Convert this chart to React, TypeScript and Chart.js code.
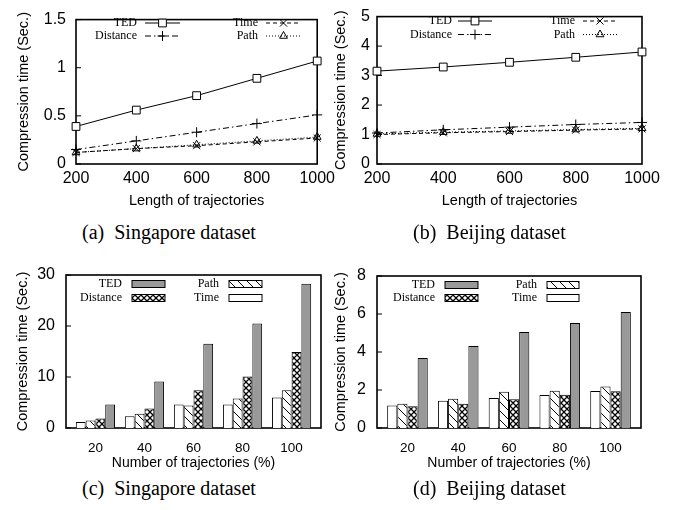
import React, { useEffect, useRef } from 'react';
import { Chart, registerables } from 'chart.js';
import { drawPoint } from 'chart.js/helpers';

Chart.register(...registerables);

// ---- data ----
const LENGTHS = ['200', '400', '600', '800', '1000'];
const SG_TED = [0.39, 0.56, 0.71, 0.89, 1.07];
const SG_DIST = [0.15, 0.24, 0.33, 0.42, 0.51];
const SG_TIME = [0.12, 0.16, 0.19, 0.23, 0.27];
const SG_PATH = [0.12, 0.16, 0.2, 0.24, 0.28];

const BJ_TED = [3.15, 3.29, 3.45, 3.62, 3.8];
const BJ_DIST = [1.05, 1.16, 1.25, 1.34, 1.41];
const BJ_TIME = [1.0, 1.06, 1.1, 1.15, 1.19];
const BJ_PATH = [1.02, 1.08, 1.12, 1.17, 1.21];

const PCTS = ['20', '40', '60', '80', '100'];
const SG_BAR_TIME = [1.2, 2.3, 4.6, 4.6, 6.0];
const SG_BAR_PATH = [1.45, 2.8, 4.4, 5.8, 7.4];
const SG_BAR_DIST = [1.85, 3.8, 7.4, 10.1, 14.9];
const SG_BAR_TED = [4.6, 9.1, 16.5, 20.5, 28.3];

const BJ_BAR_TIME = [1.19, 1.44, 1.58, 1.74, 1.95];
const BJ_BAR_PATH = [1.28, 1.54, 1.91, 1.96, 2.18];
const BJ_BAR_DIST = [1.14, 1.28, 1.51, 1.75, 1.93];
const BJ_BAR_TED = [3.68, 4.32, 5.05, 5.53, 6.1];

const SANS = "'Liberation Sans', Arial, Helvetica, sans-serif";
const SERIF = "'Liberation Serif', 'Times New Roman', serif";

const fmtNum = (v: any) => String(Math.round(Number(v) * 100) / 100);

// ---- plugins ----
const framePlugin = {
  id: 'frame',
  beforeDatasetsDraw(chart: any) {
    const { ctx, chartArea: a, scales } = chart;
    ctx.save();
    ctx.strokeStyle = '#000';
    ctx.lineWidth = 1.6;
    ctx.setLineDash([]);
    ctx.strokeRect(a.left, a.top, a.right - a.left, a.bottom - a.top);
    ctx.lineWidth = 1;
    const ys = scales.y;
    ys.ticks.forEach((_t: any, i: number) => {
      const py = ys.getPixelForTick(i);
      ctx.beginPath();
      ctx.moveTo(a.left, py);
      ctx.lineTo(a.left + 5, py);
      ctx.stroke();
    });
    ctx.restore();
  },
};

const inlineLegend = {
  id: 'inlineLegend',
  afterDraw(chart: any, _args: any, opts: any) {
    if (!opts || !opts.items) return;
    const ctx = chart.ctx;
    ctx.save();
    ctx.font = `12px ${SERIF}`;
    ctx.textAlign = 'right';
    ctx.textBaseline = 'middle';
    for (const it of opts.items) {
      const ds = chart.data.datasets[it.ds];
      const col = opts.cols[it.col];
      const y = opts.rows[it.row];
      ctx.fillStyle = '#000';
      ctx.fillText(ds.label, col.right, y);
      const x0 = col.start;
      const x1 = col.start + col.len;
      if (opts.kind === 'line') {
        ctx.save();
        ctx.strokeStyle = '#000';
        ctx.lineWidth = 1;
        ctx.setLineDash(ds.borderDash || []);
        ctx.beginPath();
        ctx.moveTo(x0, y);
        ctx.lineTo(x1, y);
        ctx.stroke();
        ctx.restore();
        ctx.save();
        ctx.setLineDash([]);
        ctx.strokeStyle = '#000';
        ctx.fillStyle = ds.pointBackgroundColor || 'rgba(0,0,0,0)';
        ctx.lineWidth = 1;
        drawPoint(ctx, { pointStyle: ds.pointStyle, radius: ds.pointRadius, borderWidth: 1, rotation: 0 } as any, (x0 + x1) / 2, y);
        ctx.restore();
      } else {
        const h = 7;
        ctx.fillStyle = ds.backgroundColor;
        ctx.fillRect(x0, y - h / 2, col.len, h);
        ctx.strokeStyle = '#000';
        ctx.lineWidth = 1;
        ctx.strokeRect(x0, y - h / 2, col.len, h);
      }
    }
    ctx.restore();
  },
};

// ---- patterns ----
function diagPattern(): CanvasPattern | string {
  const s = 9;
  const c = document.createElement('canvas');
  c.width = s;
  c.height = s;
  const g = c.getContext('2d');
  if (!g) return '#fff';
  g.fillStyle = '#fff';
  g.fillRect(0, 0, s, s);
  g.strokeStyle = '#000';
  g.lineWidth = 1;
  g.beginPath();
  g.moveTo(0, 0); g.lineTo(s, s);
  g.moveTo(-2, s - 2); g.lineTo(2, s + 2);
  g.moveTo(s - 2, -2); g.lineTo(s + 2, 2);
  g.stroke();
  return g.createPattern(c, 'repeat') || '#fff';
}

function crossPattern(): CanvasPattern | string {
  const s = 6;
  const c = document.createElement('canvas');
  c.width = s;
  c.height = s;
  const g = c.getContext('2d');
  if (!g) return '#000';
  g.fillStyle = '#fff';
  g.fillRect(0, 0, s, s);
  g.strokeStyle = '#000';
  g.lineWidth = 1.3;
  g.beginPath();
  g.moveTo(0, 0); g.lineTo(s, s);
  g.moveTo(s, 0); g.lineTo(0, s);
  g.moveTo(-2, s - 2); g.lineTo(2, s + 2);
  g.moveTo(s - 2, -2); g.lineTo(s + 2, 2);
  g.moveTo(-2, 2); g.lineTo(2, -2);
  g.moveTo(s - 2, s + 2); g.lineTo(s + 2, s - 2);
  g.stroke();
  return g.createPattern(c, 'repeat') || '#000';
}

// ---- builders ----
function lineDatasets(ted: number[], dist: number[], time: number[], path: number[]) {
  const base = { borderColor: '#000', borderWidth: 1, tension: 0, fill: false, clip: false as any, pointBorderColor: '#000', pointBorderWidth: 1 };
  return [
    { ...base, label: 'TED', data: ted, pointStyle: 'rect', pointRadius: 5.5, pointBackgroundColor: '#fff' },
    { ...base, label: 'Distance', data: dist, borderDash: [6, 3, 1.5, 3], pointStyle: 'cross', pointRadius: 5, pointBackgroundColor: 'rgba(0,0,0,0)' },
    { ...base, label: 'Time', data: time, borderDash: [4, 3], pointStyle: 'crossRot', pointRadius: 5, pointBackgroundColor: 'rgba(0,0,0,0)' },
    { ...base, label: 'Path', data: path, borderDash: [1, 2], pointStyle: 'triangle', pointRadius: 4.5, pointBackgroundColor: 'rgba(0,0,0,0)' },
  ];
}

function lineConfig(p: any) {
  return {
    type: 'line',
    data: { labels: LENGTHS, datasets: lineDatasets(p.ted, p.dist, p.time, p.path) },
    options: {
      responsive: false,
      animation: false,
      devicePixelRatio: 1,
      layout: { padding: { left: 0, top: p.top, right: p.right, bottom: 0 } },
      plugins: {
        legend: { display: false },
        tooltip: { enabled: false },
        inlineLegend: {
          kind: 'line',
          cols: p.cols,
          rows: p.rows,
          items: [
            { ds: 0, col: 0, row: 0 },
            { ds: 1, col: 0, row: 1 },
            { ds: 2, col: 1, row: 0 },
            { ds: 3, col: 1, row: 1 },
          ],
        },
      },
      scales: {
        x: {
          type: 'category',
          offset: false,
          grid: { display: false, drawTicks: false },
          border: { display: false },
          ticks: { font: { family: SANS, size: 16 }, color: '#000', padding: 5, maxRotation: 0, autoSkip: false },
          title: { display: true, text: 'Length of trajectories', font: { family: SANS, size: 14.5 }, color: '#000', padding: { top: 0, bottom: 5 } },
          afterFit: (s: any) => { s.height = p.xh; },
        },
        y: {
          min: 0,
          max: p.ymax,
          grid: { display: false, drawTicks: false },
          border: { display: false },
          ticks: { stepSize: p.step, callback: fmtNum, font: { family: SANS, size: 16 }, color: '#000', padding: p.ypad },
          title: { display: true, text: 'Compression time (Sec.)', font: { family: SANS, size: 14.5 }, color: '#000', padding: { top: p.ytitle, bottom: 0 } },
          afterFit: (s: any) => { s.width = p.yw; },
        },
      },
    },
    plugins: [framePlugin, inlineLegend],
  };
}

function barConfig(p: any) {
  const diag = diagPattern();
  const cross = crossPattern();
  const toPts = (arr: number[]) => arr.map((v, i) => ({ x: i, y: v }));
  const base = { borderColor: '#000', borderWidth: 1, categoryPercentage: 0.8, barPercentage: 1.0 };
  return {
    type: 'bar',
    data: {
      datasets: [
        { ...base, label: 'Time', data: toPts(p.time), backgroundColor: '#fff' },
        { ...base, label: 'Path', data: toPts(p.path), backgroundColor: diag },
        { ...base, label: 'Distance', data: toPts(p.dist), backgroundColor: cross },
        { ...base, label: 'TED', data: toPts(p.ted), backgroundColor: '#999' },
      ],
    },
    options: {
      responsive: false,
      animation: false,
      devicePixelRatio: 1,
      layout: { padding: { left: 0, top: p.top, right: p.right, bottom: 0 } },
      plugins: {
        legend: { display: false },
        tooltip: { enabled: false },
        inlineLegend: {
          kind: 'bar',
          cols: p.cols,
          rows: p.rows,
          items: [
            { ds: 3, col: 0, row: 0 },
            { ds: 2, col: 0, row: 1 },
            { ds: 1, col: 1, row: 0 },
            { ds: 0, col: 1, row: 1 },
          ],
        },
      },
      scales: {
        x: {
          type: 'linear',
          min: -0.6,
          max: 4.6,
          offset: false,
          grid: { display: false, drawTicks: false },
          border: { display: false },
          afterBuildTicks: (s: any) => { s.ticks = PCTS.map((_c, i) => ({ value: i })); },
          ticks: {
            callback: (v: any) => PCTS[v] ?? '',
            font: { family: SANS, size: 13.5 }, color: '#000', padding: 12, maxRotation: 0, autoSkip: false,
          },
          title: { display: true, text: 'Number of trajectories (%)', font: { family: SANS, size: 14 }, color: '#000', padding: { top: 0, bottom: 3 } },
          afterFit: (s: any) => { s.height = p.xh; },
        },
        y: {
          min: 0,
          max: p.ymax,
          grid: { display: false, drawTicks: false },
          border: { display: false },
          ticks: { stepSize: p.step, callback: fmtNum, font: { family: SANS, size: 16 }, color: '#000', padding: p.ypad },
          title: { display: true, text: 'Compression time (Sec.)', font: { family: SANS, size: 14.5 }, color: '#000', padding: { top: p.ytitle, bottom: 0 } },
          afterFit: (s: any) => { s.width = p.yw; },
        },
      },
    },
    plugins: [framePlugin, inlineLegend],
  };
}

function ChartCanvas({ left, top, width, height, make }: any) {
  const ref = useRef<HTMLCanvasElement | null>(null);
  useEffect(() => {
    if (!ref.current) return;
    const chart = new Chart(ref.current, make() as any);
    return () => chart.destroy();
  }, []);
  return (
    <canvas
      ref={ref}
      width={width}
      height={height}
      style={{ position: 'absolute', left, top, width, height }}
    />
  );
}

const capStyle: React.CSSProperties = {
  position: 'absolute',
  fontFamily: SERIF,
  fontSize: 20,
  lineHeight: '20px',
  whiteSpace: 'pre',
  color: '#000',
};

export default function App() {
  return (
    <div style={{ position: 'absolute', left: 0, top: 0, width: 681, height: 510, background: '#fff', overflow: 'hidden' }}>
      <ChartCanvas
        left={0} top={0} width={340} height={215}
        make={() => lineConfig({
          ted: SG_TED, dist: SG_DIST, time: SG_TIME, path: SG_PATH,
          ymax: 1.5, step: 0.5, top: 13, right: 18, xh: 51, yw: 76, ypad: 10, ytitle: 15,
          cols: [{ right: 137, start: 145, len: 35 }, { right: 258, start: 266, len: 35 }],
          rows: [23, 36],
        })}
      />
      <ChartCanvas
        left={330} top={0} width={351} height={215}
        make={() => lineConfig({
          ted: BJ_TED, dist: BJ_DIST, time: BJ_TIME, path: BJ_PATH,
          ymax: 5, step: 1, top: 13, right: 39, xh: 51, yw: 47, ypad: 7, ytitle: 2.5,
          cols: [{ right: 122, start: 128, len: 34 }, { right: 245, start: 253, len: 34 }],
          rows: [21, 34.5],
        })}
      />
      <ChartCanvas
        left={0} top={250} width={340} height={225}
        make={() => barConfig({
          ted: SG_BAR_TED, dist: SG_BAR_DIST, time: SG_BAR_TIME, path: SG_BAR_PATH,
          ymax: 30, step: 10, top: 25, right: 19, xh: 47, yw: 66, ypad: 11, ytitle: 14.5,
          cols: [{ right: 122, start: 132, len: 33 }, { right: 219, start: 229, len: 33 }],
          rows: [34, 48],
        })}
      />
      <ChartCanvas
        left={330} top={250} width={351} height={225}
        make={() => barConfig({
          ted: BJ_BAR_TED, dist: BJ_BAR_DIST, time: BJ_BAR_TIME, path: BJ_BAR_PATH,
          ymax: 8, step: 2, top: 26, right: 40, xh: 47, yw: 47, ypad: 11, ytitle: 2.5,
          cols: [{ right: 105, start: 115, len: 33 }, { right: 207, start: 217, len: 32 }],
          rows: [35, 48],
        })}
      />
      <div style={{ ...capStyle, left: 82, top: 222 }}>{'(a)  Singapore dataset'}</div>
      <div style={{ ...capStyle, left: 413, top: 222 }}>{'(b)  Beijing dataset'}</div>
      <div style={{ ...capStyle, left: 82, top: 478 }}>{'(c)  Singapore dataset'}</div>
      <div style={{ ...capStyle, left: 413, top: 478 }}>{'(d)  Beijing dataset'}</div>
    </div>
  );
}
